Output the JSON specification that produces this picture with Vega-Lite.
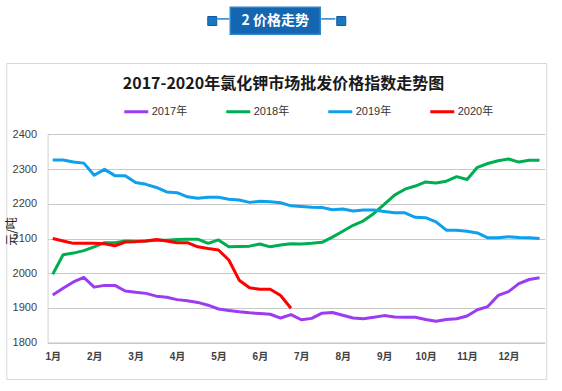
{
  "$schema": "https://vega.github.io/schema/vega-lite/v6.json",
  "background": "white",
  "padding": {"left": 5, "top": 6, "right": 5, "bottom": 5},
  "resolve": {"legend": {"color": "independent"}},
  "vconcat": [
    {
      "hconcat": [
        {"width": 9, "height": 9, "view": {"fill": "#1a78c2", "stroke": "#0f5a9e"}, "data": {"values": [{}]}, "mark": {"type": "text", "text": ""}},
        {"width": 12, "height": 1.5, "view": {"fill": "#2a7fc4", "stroke": null}, "data": {"values": [{}]}, "mark": {"type": "text", "text": ""}},
        {"width": 90, "height": 27, "view": {"fill": "#1566b0", "stroke": "#2c86cc", "strokeWidth": 1.5}, "data": {"values": [{}]}, "mark": {"type": "text", "text": "2  价格走势", "color": "white", "fontSize": 14, "fontWeight": "bold", "font": "Noto Sans CJK SC"}},
        {"width": 14, "height": 1.5, "view": {"fill": "#2a7fc4", "stroke": null}, "data": {"values": [{}]}, "mark": {"type": "text", "text": ""}},
        {"width": 9, "height": 9, "view": {"fill": "#1a78c2", "stroke": "#0f5a9e"}, "data": {"values": [{}]}, "mark": {"type": "text", "text": ""}}
      ],
      "spacing": 0,
      "center": true
    },
    {
      "width": 540,
      "height": 316,
      "view": {"fill": "white", "stroke": "#d6d6d6", "strokeWidth": 1},
      "data": {"values": [
        {"year":"2017年","w":0,"v":1937},{"year":"2017年","w":1,"v":1957},{"year":"2017年","w":2,"v":1975},{"year":"2017年","w":3,"v":1988},{"year":"2017年","w":4,"v":1960},{"year":"2017年","w":5,"v":1965},{"year":"2017年","w":6,"v":1965},{"year":"2017年","w":7,"v":1949},{"year":"2017年","w":8,"v":1945},{"year":"2017年","w":9,"v":1942},{"year":"2017年","w":10,"v":1934},{"year":"2017年","w":11,"v":1931},
        {"year":"2017年","w":12,"v":1924},{"year":"2017年","w":13,"v":1921},{"year":"2017年","w":14,"v":1916},{"year":"2017年","w":15,"v":1908},{"year":"2017年","w":16,"v":1897},{"year":"2017年","w":17,"v":1893},{"year":"2017年","w":18,"v":1889},{"year":"2017年","w":19,"v":1886},{"year":"2017年","w":20,"v":1884},{"year":"2017年","w":21,"v":1882},{"year":"2017年","w":22,"v":1871},{"year":"2017年","w":23,"v":1881},
        {"year":"2017年","w":24,"v":1866},{"year":"2017年","w":25,"v":1870},{"year":"2017年","w":26,"v":1885},{"year":"2017年","w":27,"v":1887},{"year":"2017年","w":28,"v":1879},{"year":"2017年","w":29,"v":1871},{"year":"2017年","w":30,"v":1869},{"year":"2017年","w":31,"v":1873},{"year":"2017年","w":32,"v":1878},{"year":"2017年","w":33,"v":1874},{"year":"2017年","w":34,"v":1873},{"year":"2017年","w":35,"v":1873},
        {"year":"2017年","w":36,"v":1867},{"year":"2017年","w":37,"v":1862},{"year":"2017年","w":38,"v":1867},{"year":"2017年","w":39,"v":1869},{"year":"2017年","w":40,"v":1877},{"year":"2017年","w":41,"v":1895},{"year":"2017年","w":42,"v":1904},{"year":"2017年","w":43,"v":1936},{"year":"2017年","w":44,"v":1947},{"year":"2017年","w":45,"v":1970},{"year":"2017年","w":46,"v":1982},{"year":"2017年","w":47,"v":1987},
        {"year":"2018年","w":0,"v":1997},{"year":"2018年","w":1,"v":2053},{"year":"2018年","w":2,"v":2058},{"year":"2018年","w":3,"v":2065},{"year":"2018年","w":4,"v":2076},{"year":"2018年","w":5,"v":2088},{"year":"2018年","w":6,"v":2088},{"year":"2018年","w":7,"v":2093},{"year":"2018年","w":8,"v":2092},{"year":"2018年","w":9,"v":2093},{"year":"2018年","w":10,"v":2095},{"year":"2018年","w":11,"v":2095},
        {"year":"2018年","w":12,"v":2097},{"year":"2018年","w":13,"v":2098},{"year":"2018年","w":14,"v":2098},{"year":"2018年","w":15,"v":2086},{"year":"2018年","w":16,"v":2096},{"year":"2018年","w":17,"v":2076},{"year":"2018年","w":18,"v":2077},{"year":"2018年","w":19,"v":2078},{"year":"2018年","w":20,"v":2084},{"year":"2018年","w":21,"v":2076},{"year":"2018年","w":22,"v":2081},{"year":"2018年","w":23,"v":2085},
        {"year":"2018年","w":24,"v":2084},{"year":"2018年","w":25,"v":2086},{"year":"2018年","w":26,"v":2089},{"year":"2018年","w":27,"v":2104},{"year":"2018年","w":28,"v":2121},{"year":"2018年","w":29,"v":2138},{"year":"2018年","w":30,"v":2151},{"year":"2018年","w":31,"v":2172},{"year":"2018年","w":32,"v":2198},{"year":"2018年","w":33,"v":2225},{"year":"2018年","w":34,"v":2242},{"year":"2018年","w":35,"v":2251},
        {"year":"2018年","w":36,"v":2263},{"year":"2018年","w":37,"v":2260},{"year":"2018年","w":38,"v":2265},{"year":"2018年","w":39,"v":2278},{"year":"2018年","w":40,"v":2270},{"year":"2018年","w":41,"v":2305},{"year":"2018年","w":42,"v":2316},{"year":"2018年","w":43,"v":2324},{"year":"2018年","w":44,"v":2329},{"year":"2018年","w":45,"v":2320},{"year":"2018年","w":46,"v":2325},{"year":"2018年","w":47,"v":2325},
        {"year":"2019年","w":0,"v":2326},{"year":"2019年","w":1,"v":2326},{"year":"2019年","w":2,"v":2320},{"year":"2019年","w":3,"v":2317},{"year":"2019年","w":4,"v":2282},{"year":"2019年","w":5,"v":2299},{"year":"2019年","w":6,"v":2281},{"year":"2019年","w":7,"v":2281},{"year":"2019年","w":8,"v":2261},{"year":"2019年","w":9,"v":2256},{"year":"2019年","w":10,"v":2247},{"year":"2019年","w":11,"v":2234},
        {"year":"2019年","w":12,"v":2232},{"year":"2019年","w":13,"v":2220},{"year":"2019年","w":14,"v":2216},{"year":"2019年","w":15,"v":2219},{"year":"2019年","w":16,"v":2219},{"year":"2019年","w":17,"v":2213},{"year":"2019年","w":18,"v":2211},{"year":"2019年","w":19,"v":2204},{"year":"2019年","w":20,"v":2207},{"year":"2019年","w":21,"v":2206},{"year":"2019年","w":22,"v":2203},{"year":"2019年","w":23,"v":2194},
        {"year":"2019年","w":24,"v":2192},{"year":"2019年","w":25,"v":2190},{"year":"2019年","w":26,"v":2189},{"year":"2019年","w":27,"v":2183},{"year":"2019年","w":28,"v":2185},{"year":"2019年","w":29,"v":2179},{"year":"2019年","w":30,"v":2182},{"year":"2019年","w":31,"v":2182},{"year":"2019年","w":32,"v":2178},{"year":"2019年","w":33,"v":2174},{"year":"2019年","w":34,"v":2174},{"year":"2019年","w":35,"v":2161},
        {"year":"2019年","w":36,"v":2160},{"year":"2019年","w":37,"v":2148},{"year":"2019年","w":38,"v":2124},{"year":"2019年","w":39,"v":2124},{"year":"2019年","w":40,"v":2121},{"year":"2019年","w":41,"v":2116},{"year":"2019年","w":42,"v":2102},{"year":"2019年","w":43,"v":2102},{"year":"2019年","w":44,"v":2105},{"year":"2019年","w":45,"v":2103},{"year":"2019年","w":46,"v":2102},{"year":"2019年","w":47,"v":2100},
        {"year":"2020年","w":0,"v":2100},{"year":"2020年","w":1,"v":2093},{"year":"2020年","w":2,"v":2086},{"year":"2020年","w":3,"v":2086},{"year":"2020年","w":4,"v":2086},{"year":"2020年","w":5,"v":2085},{"year":"2020年","w":6,"v":2079},{"year":"2020年","w":7,"v":2090},{"year":"2020年","w":8,"v":2091},{"year":"2020年","w":9,"v":2093},{"year":"2020年","w":10,"v":2097},{"year":"2020年","w":11,"v":2093},
        {"year":"2020年","w":12,"v":2088},{"year":"2020年","w":13,"v":2088},{"year":"2020年","w":14,"v":2076},{"year":"2020年","w":15,"v":2071},{"year":"2020年","w":16,"v":2067},{"year":"2020年","w":17,"v":2038},{"year":"2020年","w":18,"v":1980},{"year":"2020年","w":19,"v":1958},{"year":"2020年","w":20,"v":1954},{"year":"2020年","w":21,"v":1954},{"year":"2020年","w":22,"v":1936},{"year":"2020年","w":23,"v":1899}
      ]},
      "mark": {"type": "line", "strokeWidth": 3, "strokeJoin": "round"},
      "encoding": {
        "x": {
          "field": "w", "type": "quantitative",
          "scale": {"domain": [-0.5, 47.5], "range": [41.3, 538.5], "nice": false, "zero": false},
          "axis": {
            "offset": -36.3, "title": null, "values": [0, 4, 8, 12, 16, 20, 24, 28, 32, 36, 40, 44],
            "labelExpr": "(datum.value / 4 + 1) + '月'",
            "grid": false, "ticks": false, "tickSize": 0, "domain": true, "domainColor": "#c8c8c8", "domainWidth": 1.2,
            "labelFont": "Liberation Sans, Noto Sans CJK SC", "labelFontSize": 10, "labelFontWeight": "bold", "labelColor": "#404040", "labelPadding": 9
          }
        },
        "y": {
          "field": "v", "type": "quantitative",
          "scale": {"domain": [1800, 2400], "range": [279.7, 71.3], "nice": false, "zero": false},
          "axis": {
            "offset": -41.3, "values": [1800, 1900, 2000, 2100, 2200, 2300, 2400], "format": "d",
            "title": "元/吨", "titleFont": "Noto Sans CJK SC", "titleFontSize": 12, "titleFontWeight": "normal", "titleColor": "#222222",
            "titleX": -36, "titleY": 168, "titleBaseline": "middle", "titleAngle": -90,
            "grid": true, "gridColor": "#c8c8c8", "gridWidth": 1.2, "ticks": false, "tickSize": 0,
            "domain": true, "domainColor": "#d0d0d0", "domainWidth": 1,
            "labelFont": "Liberation Sans", "labelFontSize": 11, "labelColor": "#404040", "labelPadding": 11
          }
        },
        "color": {
          "field": "year", "type": "nominal",
          "scale": {"domain": ["2017年", "2018年", "2019年", "2020年"], "range": ["#9b3cf2", "#00ae52", "#0ea0ec", "#ff0000"]},
          "legend": {
            "orient": "none", "legendX": 116.5, "legendY": 12.5, "direction": "horizontal", "columns": 4,
            "title": "2017-2020年氯化钾市场批发价格指数走势图", "titleOrient": "top", "titleAnchor": "start", "titleLimit": 600,
            "titleFont": "Noto Sans CJK SC", "titleFontSize": 16, "titleFontWeight": "bold", "titleColor": "#1a1a1a", "titlePadding": 6.5,
            "symbolType": "stroke", "symbolSize": 576, "symbolStrokeWidth": 3,
            "labelFont": "Liberation Sans, Noto Sans CJK SC", "labelFontSize": 11, "labelColor": "#333333", "labelOffset": 2,
            "columnPadding": 32
          }
        }
      }
    }
  ],
  "spacing": 27,
  "center": true
}
